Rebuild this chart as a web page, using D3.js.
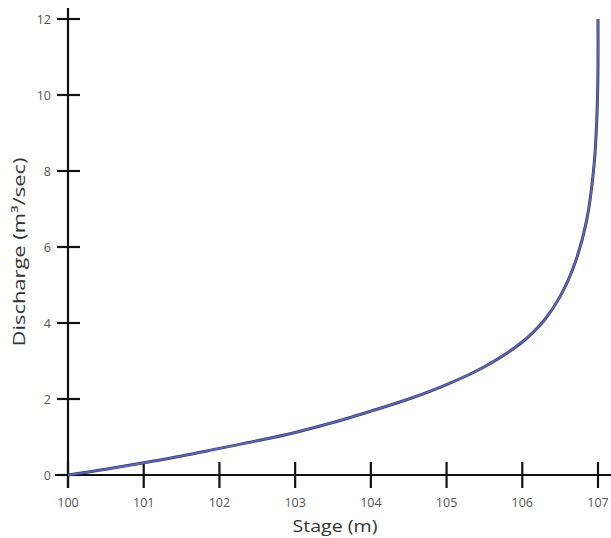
<!DOCTYPE html>
<html>
<head>
<meta charset="utf-8">
<script src="https://cdn.jsdelivr.net/npm/d3@7"></script>
<style>
  html, body { margin: 0; padding: 0; background: #ffffff; }
  svg { display: block; }
  text { font-family: "Open Sans", "Liberation Sans", sans-serif; }
</style>
</head>
<body>
<svg id="chart" width="611" height="538"></svg>
<script>
// Rating curve: stage (m) against discharge (m³/sec)
const stage     = [100, 100.5, 101, 101.5, 102, 102.5, 103, 103.5, 104, 104.5, 105, 105.5, 106, 106.3, 106.5, 106.7, 106.85, 106.95, 106.99, 107, 107];
const discharge = [0, 0.15, 0.32, 0.5, 0.7, 0.9, 1.12, 1.38, 1.68, 2.0, 2.38, 2.85, 3.5, 4.1, 4.7, 5.6, 6.7, 8.2, 9.7, 10.8, 12];
const xTicks = [100, 101, 102, 103, 104, 105, 106, 107];
const yTicks = [0, 2, 4, 6, 8, 10, 12];

const svg = d3.select("#chart");
const x = d3.scaleLinear().domain([100, 107]).range([68, 598]);
const y = d3.scaleLinear().domain([0, 12]).range([475, 19]);

// Axis lines
svg.append("line").attr("x1", 55).attr("x2", 611).attr("y1", y(0)).attr("y2", y(0))
  .attr("stroke", "#111").attr("stroke-width", 2.2);
svg.append("line").attr("x1", x(100)).attr("x2", x(100)).attr("y1", 8).attr("y2", 488)
  .attr("stroke", "#111").attr("stroke-width", 2.2);

// Tick marks crossing the axes
svg.selectAll(".xt").data(xTicks).enter().append("line")
  .attr("x1", d => x(d)).attr("x2", d => x(d)).attr("y1", y(0) - 13).attr("y2", y(0) + 13)
  .attr("stroke", "#111").attr("stroke-width", 2.2);
svg.selectAll(".yt").data(yTicks).enter().append("line")
  .attr("x1", x(100) - 11).attr("x2", x(100) + 12).attr("y1", d => y(d)).attr("y2", d => y(d))
  .attr("stroke", "#111").attr("stroke-width", 2.2);

// Tick labels
svg.selectAll(".xl").data(xTicks).enter().append("text")
  .attr("x", d => x(d)).attr("y", 507).attr("text-anchor", "middle")
  .attr("font-size", 12.5).attr("fill", "#555").text(d => d);
svg.selectAll(".yl").data(yTicks).enter().append("text")
  .attr("x", 51).attr("y", d => y(d) + 5).attr("text-anchor", "end")
  .attr("font-size", 12.5).attr("fill", "#555").text(d => d);

// Axis titles
svg.append("text").attr("x", 335).attr("y", 532).attr("text-anchor", "middle")
  .attr("font-size", 16.5).attr("fill", "#333")
  .attr("textLength", 85).attr("lengthAdjust", "spacingAndGlyphs").text("Stage (m)");
svg.append("text").attr("transform", "translate(25,252) rotate(-90)").attr("text-anchor", "middle")
  .attr("font-size", 16.5).attr("fill", "#333")
  .attr("textLength", 189).attr("lengthAdjust", "spacingAndGlyphs").text("Discharge (m³/sec)");

// Curve
const pts = stage.map((s, i) => [s, discharge[i]]);
const line = d3.line().x(d => x(d[0])).y(d => y(d[1])).curve(d3.curveCatmullRom.alpha(0.5));
svg.append("path").datum(pts).attr("d", line)
  .attr("fill", "none").attr("stroke", "#3a3d6e").attr("stroke-width", 3);
svg.append("path").datum(pts).attr("d", line)
  .attr("fill", "none").attr("stroke", "#6068b8").attr("stroke-width", 1.6);
</script>
</body>
</html>
